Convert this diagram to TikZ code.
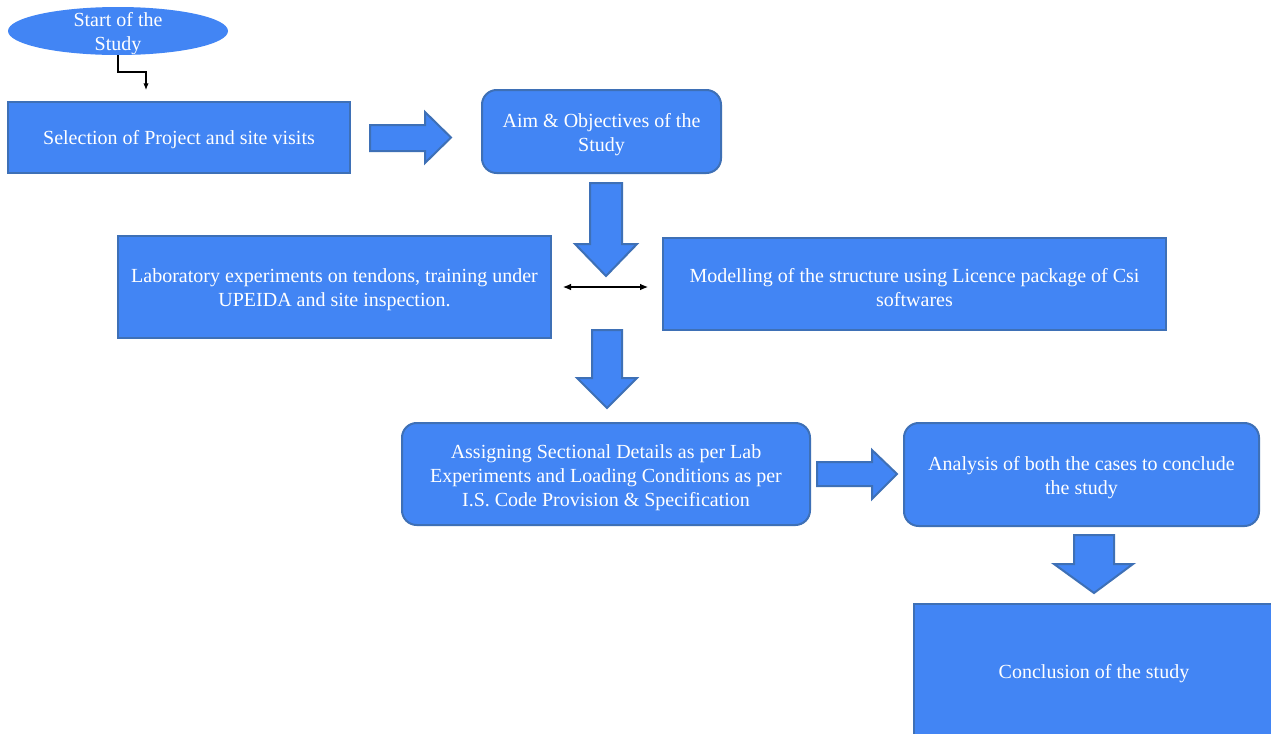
\documentclass[tikz,border=0pt]{standalone}
\usepackage{fontspec}
\setmainfont{Liberation Serif}
\usetikzlibrary{arrows.meta,shapes.geometric}
\definecolor{boxfill}{RGB}{66,133,244}
\definecolor{boxline}{RGB}{62,112,182}
\begin{document}
\begin{tikzpicture}[x=0.75pt,y=-0.75pt,
  every node/.style={font=\fontsize{15}{18}\selectfont, text=white, align=center, inner sep=0pt},
  box/.style={draw=boxline, fill=boxfill, line width=1.5pt, rectangle},
  rbox/.style={box, rounded corners=11pt},
  oval/.style={fill=boxfill, ellipse},
  blockarrow/.style={draw=boxline, fill=boxfill, line width=1.5pt, line join=miter},
  thin/.style={draw=black, line width=0.8pt}
]
\useasboundingbox (0,0) rectangle (1271,733);
\fill[white] (0,0) rectangle (1271,733);

% nodes
\node[oval, minimum width=220*0.75pt, minimum height=48*0.75pt] (start) at (118,31) {};
\node at (118,34) (starttext) {Start of the\\Study};

\node[box, minimum width=342*0.75pt, minimum height=71*0.75pt] (sel) at (179,137.5) {};
\node at (179,140) (seltext) {Selection of Project and site visits};
\node[rbox, minimum width=239*0.75pt, minimum height=83*0.75pt] (aim) at (601.5,131.5) {};
\node at (601.5,135) (aimtext) {Aim \& Objectives of the\\Study};

\node[box, minimum width=433*0.75pt, minimum height=102*0.75pt] (lab) at (334.5,287) {};
\node at (334.5,290) (labtext) {Laboratory experiments on tendons, training under\\UPEIDA and site inspection.};
\node[box, minimum width=503*0.75pt, minimum height=92*0.75pt] (model) at (914.5,284) {};
\node at (914.5,287.5) (modeltext) {Modelling of the structure using Licence package of Csi\\softwares};

\node[rbox, minimum width=408*0.75pt, minimum height=102*0.75pt] (assign) at (606,474) {};
\node at (606,478) (assigntext) {Assigning Sectional Details as per Lab\\Experiments and Loading Conditions as per\\I.S. Code Provision \& Specification};

\node[rbox, minimum width=355*0.75pt, minimum height=103*0.75pt] (anal) at (1081.5,474.5) {};
\node at (1081.5,478) (analtext) {Analysis of both the cases to conclude\\the study};

\node[box, minimum width=360*0.75pt, minimum height=134*0.75pt] (concl) at (1094,671) {};
\node at (1094,674) (concltext) {Conclusion of the study};

% small elbow connector
\coordinate (elbowend) at (146,90);
\draw[thin, -{Latex[length=5pt,width=4pt]}] (start.south) -- (118,72) -| (elbowend);

% double arrow between lab and model
\draw[thin, {Latex[length=6pt,width=5pt]}-{Latex[length=6pt,width=5pt]}, shorten <=11*0.75pt, shorten >=14*0.75pt]
  (lab.east) -- (lab.east -| model.west);

% block arrows
\draw[blockarrow] (370,125) -- (425,125) -- (425,112) -- (451,137.5) -- (425,163) -- (425,151) -- (370,151) -- cycle;
\draw[blockarrow] (590,183) -- (622,183) -- (622,244) -- (637,244) -- (606,276) -- (575,244) -- (590,244) -- cycle;
\draw[blockarrow] (592,330) -- (622,330) -- (622,378) -- (637,378) -- (607,408) -- (577,378) -- (592,378) -- cycle;
\draw[blockarrow] (817,462) -- (872,462) -- (872,450) -- (897,474) -- (872,499) -- (872,486) -- (817,486) -- cycle;
\draw[blockarrow] (1074,535) -- (1114,535) -- (1114,564) -- (1133,564) -- (1094,593) -- (1054,564) -- (1074,564) -- cycle;
\end{tikzpicture}
\end{document}
